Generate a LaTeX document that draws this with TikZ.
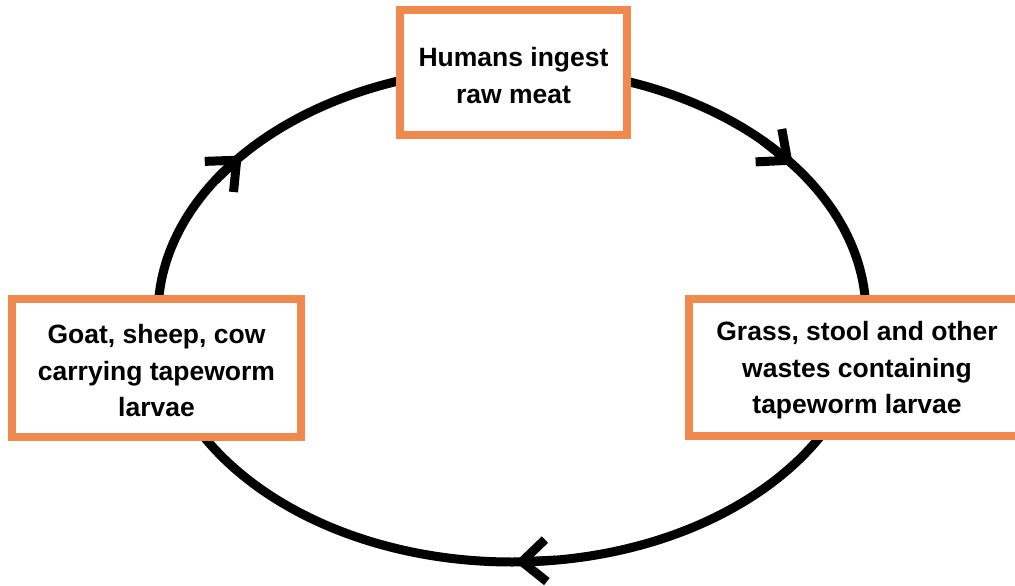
\documentclass[tikz,border=0pt]{standalone}
\usepackage{fontspec}
\setmainfont{Liberation Sans}
\usetikzlibrary{arrows.meta,calc}
\definecolor{boxorange}{RGB}{240,137,78}
\newcommand\firstlinestrut{\rule{0pt}{25pt}}
\tikzset{
  stagebox/.style={draw=boxorange, line width=8pt, fill=white, align=center,
    font=\bfseries\fontsize{26.5pt}{36.5pt}\selectfont, inner sep=0pt},
  cycleline/.style={line width=9pt, draw=black},
  cyclearrow/.style={line width=9pt, draw=black,
    -{Straight Barb[length=24pt,width=42pt,line width=9pt,line cap=butt,line join=miter]}},
}
\begin{document}
\begin{tikzpicture}[x=1pt,y=-1pt]
\useasboundingbox (0,0) rectangle (1015,586);
\coordinate (c) at (512,315);
\draw[cycleline] (c) ellipse [x radius=354pt, y radius=247pt];
\coordinate (a1s) at ($(c)+(147:354pt and 247pt)$);
\coordinate (a1e) at ($(c)+(139.8:354pt and 247pt)$);
\coordinate (a2s) at ($(c)+(45:354pt and 247pt)$);
\coordinate (a2e) at ($(c)+(37.5:354pt and 247pt)$);
\coordinate (a3s) at ($(c)+(277:354pt and 247pt)$);
\coordinate (a3e) at ($(c)+(270.5:354pt and 247pt)$);
\draw[cyclearrow] (a1s) -- (a1e);
\draw[cyclearrow] (a2s) -- (a2e);
\draw[cyclearrow] (a3s) -- (a3e);
\node[stagebox, minimum width=227pt, minimum height=125pt] (human) at (513.5,72.5) {\firstlinestrut Humans ingest\\raw meat};
\node[stagebox, minimum width=336pt, minimum height=137pt] (waste) at (857,367.5) {\firstlinestrut Grass, stool and other\\wastes containing\\tapeworm larvae};
\node[stagebox, minimum width=289pt, minimum height=138pt] (goat) at (156.5,368) {\firstlinestrut Goat, sheep, cow\\carrying tapeworm\\larvae};
\end{tikzpicture}
\end{document}
